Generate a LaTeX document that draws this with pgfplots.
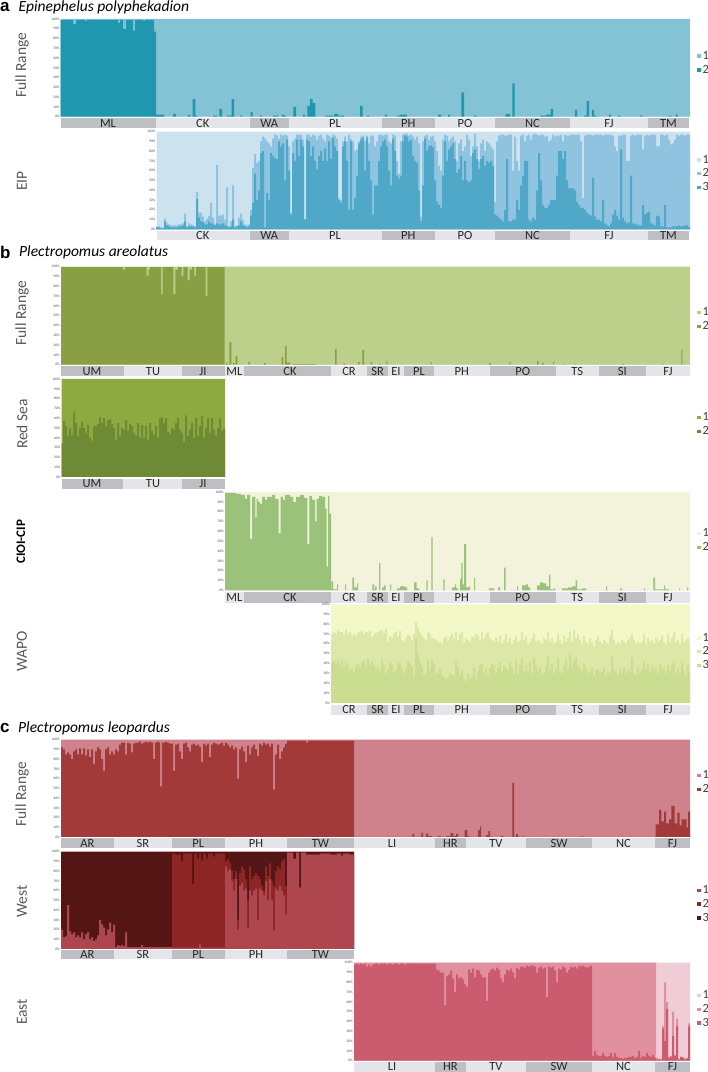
\documentclass[border=0pt]{standalone}
\usepackage{fontspec}
\setmainfont{Carlito}
\newfontfamily\hfont{Liberation Sans}
\usepackage{pgfplots}
\usepackage{pgfplotstable}
\pgfplotsset{compat=1.18}

\definecolor{stripD}{HTML}{BDBFC2}
\definecolor{stripL}{HTML}{E3E5E8}
\definecolor{labcol}{HTML}{595959}
\definecolor{aFa}{HTML}{84C3D6}
\definecolor{aFb}{HTML}{1F97AE}
\definecolor{aEa}{HTML}{CDE2EF}
\definecolor{aEb}{HTML}{8FC3DF}
\definecolor{aEc}{HTML}{4FA8C8}
\definecolor{bFa}{HTML}{BCD08C}
\definecolor{bFb}{HTML}{8A9E44}
\definecolor{bRa}{HTML}{8DAA40}
\definecolor{bRb}{HTML}{6F8A34}
\definecolor{bCa}{HTML}{F3F2DA}
\definecolor{bCb}{HTML}{9BC27A}
\definecolor{bWa}{HTML}{F2F8C8}
\definecolor{bWb}{HTML}{DDE8A8}
\definecolor{bWc}{HTML}{CBDD90}
\definecolor{cFa}{HTML}{D0828C}
\definecolor{cFb}{HTML}{A33A3A}
\definecolor{cWa}{HTML}{AE4650}
\definecolor{cWb}{HTML}{8E2525}
\definecolor{cWc}{HTML}{541614}
\definecolor{cEa}{HTML}{F0CCD6}
\definecolor{cEb}{HTML}{E0909F}
\definecolor{cEc}{HTML}{CB5B6F}

% values are the upper edge of each layer, in percent
\pgfplotstableread[row sep=\\]{x m d\\
156 3 2\\158 3 2\\160 2 1\\162 2 1\\164 11 8\\166 6 4\\168 5 3\\170 4 2\\176 4 2\\178 5 3\\180 5 3\\182 6 4\\184 16 8\\186 3 2\\188 6 3\\190 5 3\\192 4 3\\194 3 2\\196 38 31\\198 17 12\\200 17 8\\202 13 7\\204 8 5\\206 11 5\\208 14 8\\210 27 6\\212 12 6\\214 5 4\\216 66 6\\218 14 5\\220 14 5\\222 15 6\\224 10 4\\226 43 3\\228 3 2\\230 8 3\\232 45 10\\234 3 2\\236 4 3\\238 12 4\\240 16 8\\242 10 4\\244 5 3\\246 4 2\\248 5 3\\
250 20 14\\252 63 27\\254 77 57\\256 68 30\\258 70 40\\260 90 78\\262 95 80\\264 93 2\\266 90 37\\268 88 30\\270 85 78\\272 93 75\\274 97 73\\276 96 72\\278 93 90\\280 97 85\\282 96 88\\284 97 50\\286 96 92\\288 85 60\\
290 17 15\\292 90 78\\294 93 70\\296 97 92\\298 97 75\\300 97 92\\302 92 85\\304 11 10\\306 97 92\\308 97 90\\310 95 75\\312 97 85\\314 96 70\\316 92 62\\318 96 75\\320 97 80\\322 93 70\\324 90 83\\326 97 70\\328 96 90\\330 94 72\\332 97 94\\334 96 85\\336 93 80\\338 32 30\\340 30 27\\342 90 85\\344 95 90\\346 90 70\\348 97 20\\350 93 90\\
352 90 20\\354 80 32\\356 82 55\\358 90 88\\360 95 92\\362 96 94\\364 90 60\\366 96 94\\368 88 70\\370 96 50\\372 96 15\\374 85 45\\376 90 45\\378 97 70\\380 97 85\\382 96 90\\384 97 92\\386 97 85\\388 90 60\\390 88 45\\392 97 93\\394 96 80\\396 70 55\\398 57 52\\400 90 55\\402 97 90\\404 98 96\\406 98 95\\408 96 90\\410 97 92\\412 95 75\\414 92 70\\416 95 68\\418 88 40\\420 13 8\\422 90 45\\424 96 93\\426 97 80\\428 92 85\\430 95 86\\432 96 84\\434 90 50\\436 80 28\\438 65 25\\440 60 22\\442 92 55\\444 97 90\\446 96 70\\448 90 82\\450 93 85\\452 95 88\\454 90 72\\456 70 58\\458 88 62\\460 92 75\\462 80 50\\464 85 70\\466 97 50\\468 92 48\\470 75 50\\472 85 78\\474 98 82\\476 85 72\\478 70 62\\480 88 72\\482 92 75\\484 80 65\\486 90 70\\488 88 68\\490 85 70\\492 82 65\\494 28 15\\496 90 14\\498 96 12\\500 97 10\\502 97 8\\504 96 20\\506 96 72\\508 97 8\\510 97 8\\512 60 10\\514 95 10\\516 70 30\\518 60 20\\520 96 45\\522 97 55\\524 90 70\\526 96 70\\528 97 10\\530 92 8\\532 97 12\\534 98 10\\536 97 40\\538 96 78\\540 97 50\\542 97 25\\544 95 22\\546 96 22\\548 90 25\\550 92 30\\552 97 30\\554 95 30\\556 96 55\\558 96 80\\560 97 80\\562 90 72\\564 97 80\\566 96 50\\568 96 42\\570 97 42\\574 97 40\\576 97 28\\578 97 25\\580 90 22\\582 32 22\\584 96 20\\586 97 17\\588 97 15\\590 97 14\\592 96 53\\594 97 13\\596 97 10\\600 97 8\\602 96 30\\604 97 6\\606 97 4\\608 97 3\\610 97 6\\612 96 15\\614 85 20\\616 80 14\\618 96 10\\620 96 82\\622 97 12\\624 97 8\\626 70 6\\628 70 7\\630 96 55\\632 97 6\\634 96 5\\636 97 5\\638 97 4\\642 82 25\\644 96 15\\646 97 17\\648 96 18\\650 97 6\\652 97 5\\654 97 4\\656 85 14\\658 85 13\\660 97 3\\664 96 25\\666 97 2\\668 92 2\\670 87 2\\672 88 3\\674 92 3\\676 97 3\\678 96 4\\680 97 3\\684 96 4\\686 97 4\\688 97 2\\690 97 2\\
}\tabEIP

\pgfplotstableread[row sep=\\]{x m d\\
331 70 41\\333 72 43\\335 70 40\\337 74 45\\339 72 38\\341 72 44\\343 69 36\\345 74 42\\347 70 38\\349 72 33\\351 68 35\\353 70 31\\355 68 38\\357 71 40\\359 72 36\\361 73 42\\363 70 43\\365 72 38\\367 71 45\\369 73 38\\371 67 42\\373 69 38\\375 71 34\\377 72 36\\379 73 32\\381 74 44\\383 71 38\\385 75 30\\387 62 34\\389 68 42\\391 66 39\\393 70 31\\395 72 33\\397 68 42\\399 73 40\\401 64 34\\403 62 30\\405 66 35\\407 70 42\\409 68 40\\411 64 37\\413 70 28\\415 82 66\\417 76 50\\419 72 41\\421 68 37\\423 66 28\\425 64 30\\427 72 44\\429 70 33\\431 66 44\\433 65 40\\435 64 30\\437 62 30\\439 62 35\\441 60 28\\443 66 26\\445 68 24\\447 63 26\\449 67 30\\451 70 28\\453 65 27\\455 72 42\\457 64 36\\459 70 28\\461 72 33\\463 62 25\\465 66 22\\467 64 30\\469 62 24\\471 68 26\\473 66 36\\475 70 24\\477 68 32\\479 64 38\\481 72 40\\483 65 30\\485 70 36\\487 72 28\\489 66 35\\491 64 40\\493 62 38\\495 66 30\\497 62 36\\499 68 42\\501 60 32\\503 64 38\\505 70 36\\507 62 34\\509 66 42\\511 60 36\\513 64 30\\515 68 44\\517 62 30\\519 64 38\\521 72 46\\523 64 32\\525 68 38\\527 60 32\\529 62 42\\531 66 30\\533 70 46\\535 62 38\\537 64 32\\539 62 36\\541 60 30\\543 66 30\\545 64 38\\547 72 48\\549 62 34\\551 66 40\\553 60 30\\555 62 34\\557 70 46\\559 64 32\\561 60 30\\563 68 38\\565 62 44\\567 66 34\\569 72 50\\571 62 36\\573 74 44\\575 66 46\\577 70 38\\579 64 34\\581 60 32\\583 68 40\\585 62 34\\587 60 30\\589 66 32\\591 62 36\\593 58 28\\595 64 34\\597 68 34\\599 62 30\\601 60 32\\603 64 36\\605 62 28\\607 60 32\\609 68 30\\611 74 48\\613 64 34\\615 60 32\\617 62 28\\619 60 34\\621 64 30\\623 62 36\\625 60 30\\627 64 34\\629 66 32\\631 70 46\\633 64 30\\635 60 28\\637 62 36\\639 60 30\\641 62 34\\643 70 42\\645 60 34\\647 66 40\\649 62 32\\651 64 38\\653 60 34\\655 66 36\\657 62 30\\659 64 40\\661 68 36\\663 62 34\\665 60 30\\667 70 38\\669 62 32\\671 66 38\\673 72 42\\675 62 30\\677 64 36\\679 60 30\\681 70 42\\683 62 32\\685 64 28\\687 66 38\\689 62 30\\690 62 30\\
}\tabWAPO

\pgfplotstableread[row sep=\\]{x a b\\
61 20 20\\63 12 12\\65 13 13\\67 45 45\\69 18 18\\71 15 15\\73 17 17\\75 12 12\\77 14 14\\79 12 12\\81 17 17\\83 10 10\\85 15 15\\87 17 17\\89 10 10\\91 12 12\\93 8 8\\95 10 10\\97 14 14\\99 30 30\\101 25 25\\103 22 22\\105 14 14\\107 20 20\\109 27 27\\111 17 17\\113 25 25\\
115 2 2\\117 4 4\\119 3 3\\121 4 4\\123 3 3\\125 17 17\\127 2 2\\141 4 4\\143 2 2\\
172 1.5 98\\175 1.5 97\\181 1.5 90\\183 1.5 98\\192 1.5 67\\194 1.5 98\\197 1.5 93\\199 5 98\\201 1.5 91\\203 1.5 98\\206 1.5 93\\208 1.5 98\\213 1.5 95\\215 1.5 98\\
225 85 90\\227 80 92\\229 82 88\\231 70 80\\233 60 72\\235 72 80\\237 20 30\\239 65 78\\241 68 85\\243 60 82\\245 62 72\\247 22 50\\249 60 85\\251 55 72\\253 60 75\\255 62 78\\257 30 75\\259 62 72\\261 60 65\\263 55 60\\265 70 85\\267 50 75\\269 72 88\\271 50 70\\273 19 65\\275 62 80\\277 60 85\\279 65 82\\281 60 90\\283 55 92\\285 35 65\\
287 99 99\\293 93 93\\296 99 99\\299 63 63\\301 99 99\\306 97 97\\320 98 98\\330 97 97\\337 98 98\\341 96 96\\343 98 98\\350 97 97\\354 97 97\\
}\tabWest

\pgfplotstableread[row sep=\\]{x m d\\
354 100 98\\356 100 99\\358 100 98\\360 100 99\\362 100 98\\364 100 99\\366 100 96\\368 100 98\\370 100 96\\372 100 98\\374 100 99\\378 100 98\\380 100 99\\386 100 98\\388 100 99\\392 100 98\\394 100 99\\398 100 98\\400 100 99\\404 100 98\\406 100 99\\
436 100 93\\438 100 92\\440 100 90\\444 100 57\\446 100 86\\448 100 88\\450 100 92\\452 100 84\\454 100 70\\456 100 88\\458 100 84\\460 100 85\\462 100 83\\464 100 78\\466 100 75\\468 100 93\\470 100 90\\472 100 94\\474 100 85\\476 100 93\\478 100 92\\480 100 88\\482 100 85\\486 100 61\\488 100 90\\490 100 93\\492 100 94\\494 100 92\\496 100 95\\498 100 93\\500 100 84\\502 100 80\\504 100 88\\506 100 93\\508 100 92\\510 100 94\\512 100 90\\514 100 84\\516 100 95\\518 100 93\\520 100 96\\524 100 95\\526 100 97\\528 100 96\\530 100 97\\534 100 96\\536 100 90\\538 100 95\\540 100 96\\542 100 94\\544 100 95\\546 100 65\\548 100 96\\550 100 95\\552 100 96\\554 100 92\\556 100 80\\558 100 94\\560 100 93\\562 100 96\\564 100 95\\566 100 90\\568 100 93\\570 100 96\\572 100 95\\574 100 96\\576 100 94\\578 100 97\\580 100 96\\582 100 97\\584 100 96\\586 100 95\\588 100 96\\590 100 97\\
592 100 5\\594 100 10\\596 100 6\\598 100 5\\602 100 8\\604 100 5\\606 100 4\\608 100 5\\610 100 8\\612 100 4\\614 100 8\\616 100 4\\618 100 3\\622 100 2\\624 100 3\\628 100 4\\632 100 5\\634 100 3\\636 100 4\\638 100 10\\640 100 3\\642 100 5\\644 100 4\\646 100 8\\648 100 5\\650 100 4\\652 100 6\\654 100 3\\
656 3 1\\658 2 1\\662 35 33\\664 80 20\\666 60 53\\668 4 3\\670 5 4\\672 50 25\\674 6 5\\676 43 35\\678 2 1\\680 4 4\\682 4 3\\684 2 1\\686 3 2\\688 38 35\\690 3 2\\
}\tabEast

\pgfplotsset{
  panel/.style n args={4}{
    xmin=#1, xmax=#2, ymin=0, ymax=100,
    scale only axis, width={(#2-#1)*1pt}, height={(#4-#3)*1pt},
    at={(#1pt,{(1072-#4)*1pt})}, anchor=south west,
    clip=false, axis on top,
    axis line style={draw=none}, tick style={draw=none}, major tick length=0pt,
    ytick={0,10,...,100},
    yticklabel={\pgfmathprintnumber{\tick}\%},
    yticklabel style={/pgf/number format/assume math mode=true, font=\fontsize{3.6}{4}\selectfont, text=black!70, inner sep=1pt},
    xticklabel style={anchor=center, font=\fontsize{12.5}{12.5}\selectfont, text=black!85, text height=8pt, text depth=0pt},
    legend image code/.code={\fill[##1] (0pt,-1.8pt) rectangle (3.6pt,1.8pt);},
    legend cell align=left,
    legend style={draw=none, fill=none, anchor=west, inner sep=0pt, outer sep=0pt, row sep=0.3pt,
      font=\fontsize{12.5}{12.5}\selectfont, text=black!75,
      /tikz/every even column/.append style={column sep=1pt}},
  },
  stk/.style={const plot, draw=none, fill=#1},
}
\newcommand{\stripd}[2]{\fill[stripD] ([yshift=-\sa pt]axis cs:#1,0) rectangle ([yshift=-\sb pt]axis cs:#2,0);}
\newcommand{\stripl}[2]{\fill[stripL] ([yshift=-\sa pt]axis cs:#1,0) rectangle ([yshift=-\sb pt]axis cs:#2,0);}

\begin{document}
\begin{tikzpicture}
\path[use as bounding box] (0pt,0pt) rectangle (708pt,1072pt);

% ---------- a
\node[anchor=west,inner sep=0] at (0pt,1064.5pt) {\hfont\bfseries\fontsize{17}{17}\selectfont a};
\node[anchor=west,inner sep=0] at (18.5pt,1064.5pt) {\itshape\fontsize{15.5}{16}\selectfont Epinephelus polyphekadion};
\node[rotate=90,text=labcol,font=\fontsize{15.5}{15.5}\selectfont] at (22pt,1007pt) {Full Range};
\node[rotate=90,text=labcol,font=\fontsize{15.5}{15.5}\selectfont] at (22pt,891pt) {EIP};

\def\sa{1.6}\def\sb{11.3}
\begin{axis}[panel={60.7}{690}{19}{116.7},
  xtick={108,202.7,269.3,335,408.3,465,532.5,609,668.5},
  xticklabels={ML,CK,WA,PL,PH,PO,NC,FJ,TM},
  xticklabel style={yshift=-6.5pt},
  legend style={at={(axis cs:697,54.7)}}]
\addplot[stk=aFa] coordinates {(60.7,100)(690,100)} \closedcycle;
\addlegendentry{1}
\addplot[stk=aFb] coordinates {(60.7,99)(73,95)(76,99)(85,98)(87,99)(118,96)(120,99)(123,90)(126,99)(133,88)(135,99)(143,98)(145,99)(154,87)(156,2)(164,0)(173,3)(176,0)(188,2)(190,0)(192.7,18)(195.3,1)(197,0)(213,1)(217,0)(219.3,8)(222,0)(227,1)(231.7,18)(234,0)(240,1)(242,0)(250.7,5)(252.7,0)(260,1)(262,0)(273,1)(278,0)(282,2)(284,1)(286,0)(293.3,10)(296,0)(303,2)(305,0)(307.3,11)(310,18)(312.7,14)(315.3,0)(325,1)(333,0)(334,3)(338,1)(344,0)(360,11)(362.7,0)(367,1)(369,0)(385,2)(387,0)(397,1)(400,2)(407,0)(438,2)(441,0)(448,2)(450,0)(461.3,25)(464,0)(474,1)(476,0)(505.7,3)(510,0)(512.3,34)(514.7,0)(540,1)(546,2)(550.7,8)(553,0)(575,7)(577,0)(584,1)(586.7,16)(589,0)(592,7)(594,1)(596,0)(609,2)(611,0)(618,1)(620,0)(640,1)(642,0)(669,1)(671,0)(675.7,2)(677.7,0)(690,0)} \closedcycle;
\addlegendentry{2}
\stripd{60.7}{156}\stripl{156}{249.5}\stripd{249.5}{289}\stripl{289}{381.7}\stripd{381.7}{435}\stripl{435}{495}\stripd{495}{569.7}\stripl{569.7}{648.3}\stripd{648.3}{689}
\end{axis}

\def\sa{2}\def\sb{10.4}
\begin{axis}[panel={156.5}{690}{131.7}{229.3},
  xtick={202.7,269.3,335,408.3,465,532.5,609,668.5},
  xticklabels={CK,WA,PL,PH,PO,NC,FJ,TM},
  xticklabel style={yshift=-6.2pt},
  legend style={at={(axis cs:697,57)}}]
\addplot[stk=aEa] coordinates {(156.5,100)(690,100)} \closedcycle;
\addlegendentry{1}
\addplot[stk=aEb] table[x=x,y=m] {\tabEIP} \closedcycle;
\addlegendentry{2}
\addplot[stk=aEc] table[x=x,y=d] {\tabEIP} \closedcycle;
\addlegendentry{3}
\stripl{156.5}{249.5}\stripd{249.5}{289}\stripl{289}{381.7}\stripd{381.7}{435}\stripl{435}{495}\stripd{495}{569.7}\stripl{569.7}{648.3}\stripd{648.3}{689}
\end{axis}

% ---------- b
\node[anchor=west,inner sep=0] at (0pt,819.5pt) {\hfont\bfseries\fontsize{17}{17}\selectfont b};
\node[anchor=west,inner sep=0] at (19pt,819.5pt) {\itshape\fontsize{15.5}{16}\selectfont Plectropomus areolatus};
\node[rotate=90,text=labcol,font=\fontsize{15.5}{15.5}\selectfont] at (22pt,759pt) {Full Range};
\node[rotate=90,text=labcol,font=\fontsize{15.5}{15.5}\selectfont] at (22pt,648pt) {Red Sea};
\node[rotate=90,text=black,font=\bfseries\fontsize{13}{13}\selectfont] at (21pt,530.3pt) {CIOI-CIP};
\node[rotate=90,text=labcol,font=\fontsize{15.5}{15.5}\selectfont] at (22pt,420.3pt) {WAPO};

\def\sa{1.6}\def\sb{11.6}
\begin{axis}[panel={61}{690}{266.7}{364.7},
  xtick={92,153,203,234.3,290,349,377.7,396,419,461.7,522.8,577.3,622.3,668},
  xticklabels={UM,TU,JI,ML,CK,CR,SR,EI,PL,PH,PO,TS,SI,FJ},
  xticklabel style={yshift=-6.6pt},
  legend style={at={(axis cs:697,46)}}]
\addplot[stk=bFa] coordinates {(61,100)(690,100)} \closedcycle;
\addlegendentry{1}
\addplot[stk=bFb] coordinates {(61,99.5)(123,97)(125,99.5)(146.7,91)(148.7,97)(150,99.5)(161,72)(162.7,99.5)(173.3,72)(175.3,97)(178,99.5)(181.7,90)(183.3,99.5)(187.7,86)(189.7,97)(192,99.5)(194.3,91)(196,99.5)(205.7,70)(207.3,99.5)(224.7,0)(226,2)(227.7,0)(229.3,23)(231.3,0)(233,2)(234.5,0)(235.7,9)(237.3,0)(248.3,3)(250,0)(264,1.5)(266,0)(281.7,8)(283.3,0)(285,19)(286.7,2)(290,0)(293,0.5)(316,0)(335,16)(336.7,0)(343,1)(345,0)(358,3)(359.5,0)(362.3,15)(364,0)(370.5,3)(372,0)(379,1)(380,0)(386.3,4)(387.3,0)(430.5,3)(431.5,0)(489,1.5)(491,0)(509.5,3)(510.5,0)(537,4)(538.5,0)(542,2)(543.5,0)(553,3)(554,0)(564,1)(565,0)(574,1)(575,0)(622,1)(623.5,0)(662,1)(663,0)(681.3,15)(682.3,0)(690,0)} \closedcycle;
\addlegendentry{2}
\stripd{61}{123.5}\stripl{123.5}{182}\stripd{182}{224.7}\stripl{224.7}{244}\stripd{244}{331}\stripl{331}{367.3}\stripd{367.3}{388}\stripl{388}{404}\stripd{404}{433.7}\stripl{433.7}{489.7}\stripd{489.7}{556}\stripl{556}{598.7}\stripd{598.7}{646}\stripl{646}{690}
\end{axis}

\def\sa{2}\def\sb{12}
\begin{axis}[panel={61.5}{225}{379}{477},
  xtick={92,153,203},
  xticklabels={UM,TU,JI},
  xticklabel style={yshift=-7pt},
  legend style={at={(axis cs:697,53.5)}}]
\addplot[stk=bRa] coordinates {(61.5,100)(225,100)} \closedcycle;
\addlegendentry{1}
\addplot[stk=bRb] coordinates {(61.5,34)(63,57)(65,52)(67,42)(69,50)(71,43)(73,67)(75,55)(77,42)(79,50)(81,56)(83,50)(85,45)(87,53)(89,40)(91,37)(93,52)(95,52)(97,54)(99,61)(101,55)(103,60)(105,52)(107,58)(109,59)(111,54)(113,50)(115,38)(117,55)(119,42)(121,50)(123,48)(125,58)(127,47)(129,54)(131,52)(133,45)(135,42)(137,55)(139,40)(141,53)(143,40)(145,52)(147,38)(149,55)(151,47)(153,43)(155,52)(157,40)(159,60)(161,61)(163,55)(165,60)(167,46)(169,44)(171,50)(173,48)(175,55)(177,60)(179,48)(181,45)(183,36)(185,63)(187,42)(189,48)(191,55)(193,40)(195,60)(197,42)(199,52)(201,62)(203,40)(205,50)(207,60)(209,45)(211,60)(213,48)(215,42)(217,50)(219,60)(221,47)(223,49)(225,49)} \closedcycle;
\addlegendentry{2}
\stripd{61.5}{123}\stripl{123}{182}\stripd{182}{225}
\end{axis}

\def\sa{1.7}\def\sb{12.4}
\begin{axis}[panel={225}{690}{492}{590.3},
  xtick={234.3,290,349,377.7,396,419,461.7,522.8,577.3,622.3,668},
  xticklabels={ML,CK,CR,SR,EI,PL,PH,PO,TS,SI,FJ},
  xticklabel style={yshift=-7pt},
  legend style={at={(axis cs:697,50.6)}}]
\addplot[stk=bCa] coordinates {(225,100)(690,100)} \closedcycle;
\addlegendentry{1}
\addplot[stk=bCb] coordinates {(225,99)(236,98)(241,97)(245,93)(247,97)(250,52)(252,95)(255.3,74)(256.7,93)(258,90)(260,88)(262,95)(265,92)(267,95)(272,97)(275,93)(278.7,58)(280.7,95)(283,92)(285,97)(290,95)(293,90)(296,95)(300,97)(304,94)(307.3,47)(309.3,96)(312,92)(315,70)(316.7,93)(319,96)(322,95)(325,83)(326.7,24)(328,96)(329.3,78)(331,2)(331.7,9)(333,1)(337,6)(338,0)(345,6)(346,0)(352.3,13)(354,3)(357,7)(358,0)(372.3,6)(374,1)(375,4)(376.5,0)(379,28)(380.3,0)(382,3)(384,5)(385.5,0)(390,6)(391,0)(397,2)(400,4)(405,3)(407,0)(414,8)(416.7,2)(419,0)(426.3,10)(427.7,0)(431.3,54)(432.7,0)(443.3,11)(444.7,0)(452,3)(455,6)(456,2)(458,0)(460,12)(461.3,28)(462.7,6)(464,47)(466,3)(469,4)(470,0)(474,13)(475,0)(489,2)(494,0)(498,3)(500,0)(504,23)(505.7,0)(517,4)(518,0)(522,5)(526,6)(528,3)(530,0)(537,5)(540,8)(543,7)(546,4)(549,16)(550.3,1)(554,2)(555,0)(562,2)(568,3)(572,4)(575.7,10)(577,1)(582,2)(586,0)(606,4)(607,0)(620,2)(622,0)(644,2)(645,0)(653.3,13)(655,1)(664,5)(665,1)(669,0)(679,2)(680,0)(687,3)(688,0)(690,0)} \closedcycle;
\addlegendentry{2}
\stripl{225}{244}\stripd{244}{331}\stripl{331}{367.3}\stripd{367.3}{388}\stripl{388}{404}\stripd{404}{433.7}\stripl{433.7}{489.7}\stripd{489.7}{556}\stripl{556}{598.7}\stripd{598.7}{646}\stripl{646}{690}
\end{axis}

\def\sa{1.7}\def\sb{12}
\begin{axis}[panel={331}{690}{604.3}{703},
  xtick={349,377.7,396,419,461.7,522.8,577.3,622.3,668},
  xticklabels={CR,SR,EI,PL,PH,PO,TS,SI,FJ},
  xticklabel style={yshift=-6.9pt},
  legend style={at={(axis cs:697,52)}}]
\addplot[stk=bWa] coordinates {(331,100)(690,100)} \closedcycle;
\addlegendentry{1}
\addplot[stk=bWb] table[x=x,y=m] {\tabWAPO} \closedcycle;
\addlegendentry{2}
\addplot[stk=bWc] table[x=x,y=d] {\tabWAPO} \closedcycle;
\addlegendentry{3}
\stripl{331}{367.3}\stripd{367.3}{388}\stripl{388}{404}\stripd{404}{433.7}\stripl{433.7}{489.7}\stripd{489.7}{556}\stripl{556}{598.7}\stripd{598.7}{646}\stripl{646}{690}
\end{axis}

% ---------- c
\node[anchor=west,inner sep=0] at (0pt,344pt) {\hfont\bfseries\fontsize{17}{17}\selectfont c};
\node[anchor=west,inner sep=0] at (18pt,344pt) {\itshape\fontsize{15.5}{16}\selectfont Plectropomus leopardus};
\node[rotate=90,text=labcol,font=\fontsize{15.5}{15.5}\selectfont] at (22pt,278pt) {Full Range};
\node[rotate=90,text=labcol,font=\fontsize{15.5}{15.5}\selectfont] at (22pt,170.3pt) {West};
\node[rotate=90,text=labcol,font=\fontsize{15.5}{15.5}\selectfont] at (22pt,60pt) {East};

\def\sa{1.4}\def\sb{11}
\begin{axis}[panel={61}{690}{739.7}{837},
  xtick={87.5,142.8,198.3,256,320.5,392,450.3,496,559,623.5,672.5},
  xticklabels={AR,SR,PL,PH,TW,LI,HR,TV,SW,NC,FJ},
  xticklabel style={yshift=-6.2pt},
  legend style={at={(axis cs:697,56)}}]
\addplot[stk=cFa] coordinates {(61,100)(690,100)} \closedcycle;
\addlegendentry{1}
\addplot[stk=cFb] coordinates {(61,92)(63,90)(65,85)(67,87)(69,85)(71,80)(73,88)(75,90)(77,85)(79,91)(81,85)(83,91)(85,84)(87,90)(89,82)(91,90)(93,75)(95,88)(97,92)(99,90)(101,80)(103,68)(105,90)(107,92)(109,85)(111,88)(113,85)(115,90)(117,88)(119,95)(121,97)(125,85)(127,97)(129,96)(131,87)(133,96)(135,97)(139,98)(141,96)(143,97)(145,98)(147,97)(149,98)(151,97)(153,80)(155,97)(157,98)(159,97)(160,52)(162,97)(165,98)(167,97)(169,96)(173,68)(175,95)(177,96)(179,88)(181,80)(183,96)(185,97)(187,92)(189,88)(191,95)(193,96)(195,94)(197,95)(199,93)(201,77)(203,96)(205,94)(207,96)(209,82)(211,95)(213,97)(215,96)(217,95)(219,96)(221,97)(223,94)(225,97)(227,95)(229,92)(231,94)(233,90)(235,92)(237,60)(239,90)(241,93)(243,88)(245,77)(247,94)(249,85)(251,92)(253,95)(255,90)(257,83)(259,96)(261,94)(263,97)(265,95)(267,96)(269,93)(271,96)(273,49)(275,85)(277,95)(279,80)(281,88)(283,92)(285,96)(287,99)(306,97)(308,99)(354,0)(412.3,3)(414,0)(421.3,4.5)(423,0)(426,3.5)(428,1)(432,0)(438,1)(441,0)(446,1)(450.7,4)(453.3,1)(456,3.5)(458,0)(464.7,7)(467.3,1)(469,0)(478,7)(480,11)(481,0)(486,2)(488.3,6)(490,0)(501,1)(503,0)(512.3,56)(514,0)(516,3)(518,0)(522,1)(523,0)(582,1)(583,0)(652,0)(655.7,13)(659,28)(661.3,16)(664,26)(666,14)(669,18)(671.3,32)(674.7,14)(677.3,25)(679.7,12)(681.7,18)(686.7,10)(688,26)(690,26)} \closedcycle;
\addlegendentry{2}
\stripd{61}{114}\stripl{114}{171.7}\stripd{171.7}{225}\stripl{225}{287}\stripd{287}{354}\stripl{354}{434.7}\stripd{434.7}{466}\stripl{466}{526.3}\stripd{526.3}{592}\stripl{592}{655}\stripd{655}{690}
\end{axis}

\def\sa{1.3}\def\sb{10.3}
\begin{axis}[panel={61}{354}{851.7}{949},
  xtick={87.5,142.8,198.3,256,320.5},
  xticklabels={AR,SR,PL,PH,TW},
  xticklabel style={yshift=-5.8pt},
  reverse legend,
  legend style={at={(axis cs:697,46)}}]
\addplot[stk=cWc] coordinates {(61,100)(354,100)} \closedcycle;
\addlegendentry{3}
\addplot[stk=cWb] table[x=x,y=b] {\tabWest} \closedcycle;
\addlegendentry{2}
\addplot[stk=cWa] table[x=x,y=a] {\tabWest} \closedcycle;
\addlegendentry{1}
\stripd{61}{114}\stripl{114}{171.7}\stripd{171.7}{225}\stripl{225}{287}\stripd{287}{354}
\end{axis}

\def\sa{1.3}\def\sb{11}
\begin{axis}[panel={354}{690}{962.7}{1060.7},
  xtick={392,450.3,496,559,623.5,672.5},
  xticklabels={LI,HR,TV,SW,NC,FJ},
  xticklabel style={yshift=-6.2pt},
  legend style={at={(axis cs:697,52.4)}}]
\addplot[stk=cEa] coordinates {(354,100)(690,100)} \closedcycle;
\addlegendentry{1}
\addplot[stk=cEb] table[x=x,y=m] {\tabEast} \closedcycle;
\addlegendentry{2}
\addplot[stk=cEc] table[x=x,y=d] {\tabEast} \closedcycle;
\addlegendentry{3}
\stripl{354}{434.7}\stripd{434.7}{466}\stripl{466}{526.3}\stripd{526.3}{592}\stripl{592}{655}\stripd{655}{690}
\end{axis}
\end{tikzpicture}
\end{document}
